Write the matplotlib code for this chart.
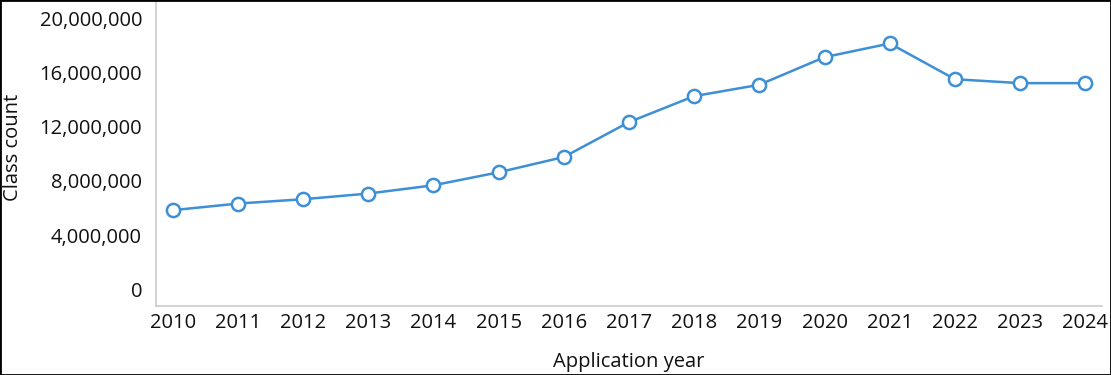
import matplotlib
matplotlib.use("Agg")
import matplotlib.pyplot as plt
from matplotlib.ticker import FuncFormatter

years = [2010, 2011, 2012, 2013, 2014, 2015, 2016, 2017, 2018, 2019, 2020, 2021, 2022, 2023, 2024]
class_count = [5.84e6, 6.33e6, 6.65e6, 7.07e6, 7.68e6, 8.64e6, 9.77e6, 12.35e6, 14.27e6,
               15.11e6, 17.15e6, 18.16e6, 15.52e6, 15.23e6, 15.23e6]
y_ticks = [0, 4e6, 8e6, 12e6, 16e6, 20e6]

plt.rcParams['font.family'] = ['Open Sans', 'DejaVu Sans']

fig = plt.figure(figsize=(11.11, 3.75), dpi=100)
ax = fig.add_axes([156/1111, 1 - 306/375, (1102 - 156)/1111, (306 - 1)/375])

color = '#3d8fd6'
ax.plot(years, class_count, color=color, lw=1.8, marker='o', markersize=9.5,
        markerfacecolor='white', markeredgecolor=color, markeredgewidth=1.8, zorder=3)

ax.set_xlim(2009.744, 2024.256)
ax.set_ylim(-1.24e6, 21.3e6)
ax.set_xticks(years)
ax.set_xticklabels([str(y) for y in years])
ax.set_yticks(y_ticks)
ax.yaxis.set_major_formatter(FuncFormatter(lambda v, p: f"{int(v):,}"))

fs = 14.5
ax.tick_params(axis='both', length=0, labelsize=fs, colors='#111111')
ax.tick_params(axis='y', pad=10)
ax.tick_params(axis='x', pad=5)

for s in ['top', 'right']:
    ax.spines[s].set_visible(False)
for s in ['left', 'bottom']:
    ax.spines[s].set_color('#cccccc')
    ax.spines[s].set_linewidth(1.2)

ax.set_xlabel('Application year', fontsize=fs, color='#111111', labelpad=14)
ax.set_ylabel('Class count', fontsize=fs, color='#111111')
ax.yaxis.set_label_coords(-(156 - 23) / 946, 0.52)

# figure border
fig.patches.append(plt.Rectangle((0, 0), 1, 1, transform=fig.transFigure, fill=False,
                                 edgecolor='black', linewidth=2, zorder=10))

fig.savefig('out.png', dpi=100)
